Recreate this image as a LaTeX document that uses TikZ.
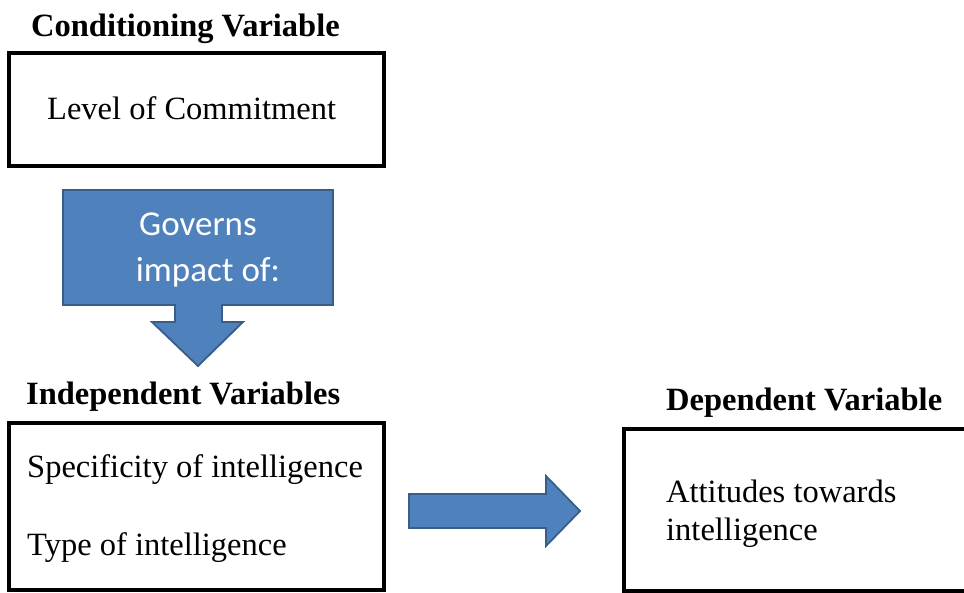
\documentclass[tikz,border=0pt]{standalone}
\usepackage{fontspec}
\setmainfont{Liberation Serif}
\newfontfamily\calibrifont{Carlito}
\usepackage{tikz}

\definecolor{officeblue}{HTML}{4F81BD}
\definecolor{officeedge}{HTML}{385D8A}

\begin{document}
\begin{tikzpicture}[x=1pt, y=-1pt,
    box/.style={draw=black, line width=3.2pt},
    blockarrow/.style={fill=officeblue, draw=officeedge, line width=1.8pt, line join=miter},
    heading/.style={anchor=base west, inner sep=0pt, font=\bfseries\fontsize{32.5}{39}\selectfont},
    boxtext/.style={anchor=base west, inner sep=0pt, font=\fontsize{32.5}{39}\selectfont},
    arrowtext/.style={anchor=base, inner sep=0pt, text=white, font=\calibrifont\fontsize{35}{42}\selectfont}]

    % Page
    \useasboundingbox (0,0) rectangle (964,593);
    \clip (0,0) rectangle (964,593);

    % Conditioning variable
    \node[heading] (condhead) at (31,37) {Conditioning Variable};
    \draw[box] (9,53) rectangle (384,166);
    \node[boxtext] (commit) at (47,120) {Level of Commitment};

    % Down arrow (callout)
    \draw[blockarrow] (63,190) -- (333,190) -- (333,305) -- (222,305) -- (222,322)
        -- (243,322) -- (198,366) -- (152,322) -- (175,322) -- (175,305)
        -- (63,305) -- cycle;
    \node[arrowtext] (governs) at (198,236) {Governs};
    \node[arrowtext] (impact) at (208,282) {impact of:};

    % Independent variables
    \node[heading] (indephead) at (26,405) {Independent Variables};
    \draw[box] (9,423) rectangle (384,590);
    \node[boxtext] (specific) at (27,477) {Specificity of intelligence};
    \node[boxtext] (type) at (27,555) {Type of intelligence};

    % Right arrow
    \draw[blockarrow] (409,494) -- (546,494) -- (546,476) -- (580,511)
        -- (546,546) -- (546,528) -- (409,528) -- cycle;

    % Dependent variable
    \node[heading] (dephead) at (666,410) {Dependent Variable};
    \draw[box] (624,429) rectangle (990,591);
    \node[boxtext] (attitude) at (666,502) {Attitudes towards};
    \node[boxtext] (intell) at (666,540) {intelligence};

\end{tikzpicture}
\end{document}
